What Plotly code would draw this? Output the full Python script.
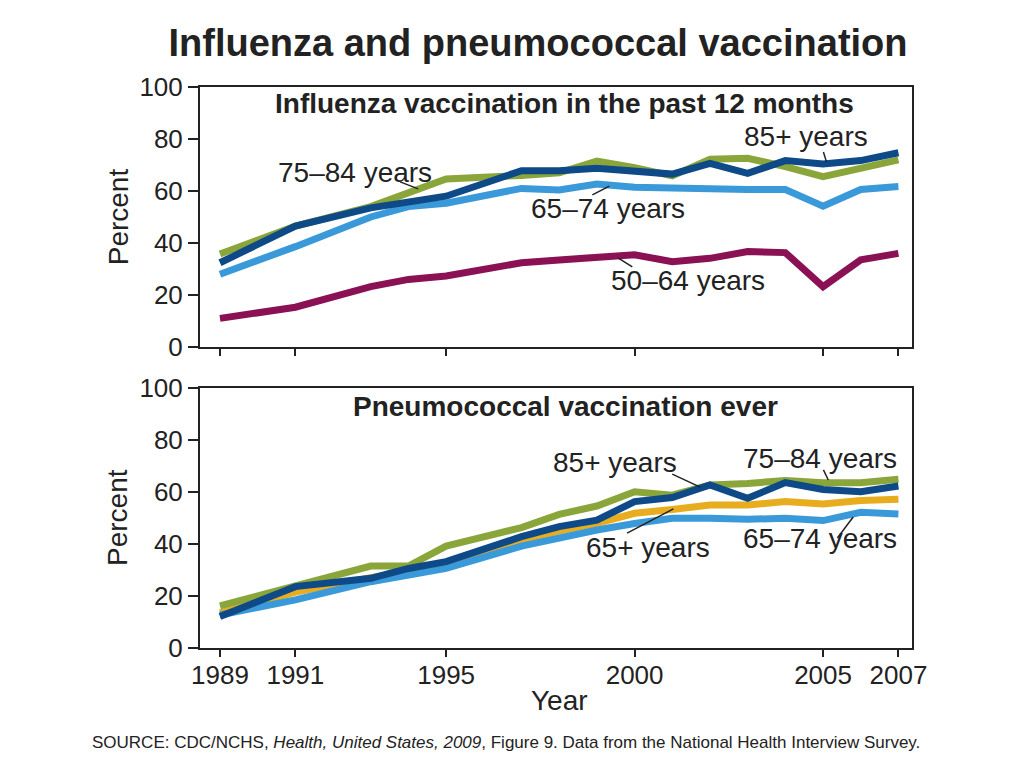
"""Influenza and pneumococcal vaccination - two stacked line panels."""
import plotly.graph_objects as go
from plotly.subplots import make_subplots

FONT = "Liberation Sans, Arial, sans-serif"
INK = "#222222"

COLOR_50_64 = "#8b1155"
COLOR_65_74 = "#3a9ad9"
COLOR_75_84 = "#8aa63a"
COLOR_85 = "#0d4a87"
COLOR_65P = "#e8ad1f"

years = [1989, 1991, 1993, 1994, 1995, 1997, 1998, 1999, 2000,
         2001, 2002, 2003, 2004, 2005, 2006, 2007]
tick_years = [1989, 1991, 1995, 2000, 2005, 2007]

# Influenza vaccination in the past 12 months (percent)
flu_50_64 = [11.0, 15.3, 23.2, 26.0, 27.3, 32.4, 33.5, 34.7, 35.5,
             32.8, 34.1, 36.7, 36.3, 23.2, 33.5, 36.0]
flu_65_74 = [28.0, 38.6, 50.0, 54.0, 55.3, 61.0, 60.4, 62.7, 61.4,
             60.9, 60.9, 60.6, 60.6, 54.2, 60.6, 61.7]
flu_75_84 = [35.8, 46.5, 54.0, 59.0, 64.6, 66.0, 67.0, 71.5, 69.0,
             65.8, 72.2, 72.6, 69.4, 65.5, 68.7, 72.0]
flu_85 = [32.4, 46.5, 53.5, 56.0, 58.0, 67.8, 67.8, 68.7, 67.8,
          66.5, 70.6, 66.8, 71.7, 70.4, 71.7, 74.7]

# Pneumococcal vaccination ever (percent)
pn_65p = [13.5, 21.5, 27.0, 29.5, 32.0, 41.0, 45.0, 47.9, 51.8,
          53.3, 55.0, 55.0, 56.3, 55.4, 56.7, 57.2]
pn_65_74 = [12.7, 18.5, 25.5, 28.0, 30.6, 39.2, 42.4, 45.4, 47.9,
            49.9, 49.9, 49.5, 49.9, 49.0, 52.2, 51.5]
pn_75_84 = [16.2, 23.6, 31.5, 31.5, 39.2, 46.3, 51.4, 54.6, 60.1,
            58.8, 62.7, 63.3, 64.4, 63.6, 63.6, 64.9]
pn_85 = [12.1, 23.6, 26.8, 30.6, 33.2, 42.8, 46.7, 49.2, 56.3,
         57.9, 62.7, 57.6, 63.6, 61.0, 60.1, 62.3]

fig = make_subplots(rows=2, cols=1, vertical_spacing=41 / 561)

top_series = [
    ("50–64 years", flu_50_64, COLOR_50_64),
    ("65–74 years", flu_65_74, COLOR_65_74),
    ("75–84 years", flu_75_84, COLOR_75_84),
    ("85+ years", flu_85, COLOR_85),
]
bottom_series = [
    ("65+ years", pn_65p, COLOR_65P),
    ("65–74 years", pn_65_74, COLOR_65_74),
    ("75–84 years", pn_75_84, COLOR_75_84),
    ("85+ years", pn_85, COLOR_85),
]
for row, series in ((1, top_series), (2, bottom_series)):
    for name, vals, color in series:
        fig.add_trace(
            go.Scatter(x=years, y=vals, mode="lines", name=name,
                       line=dict(color=color, width=7), showlegend=False),
            row=row, col=1,
        )

# series labels with short leader lines: (text, x, y, x0, y0, x1, y1)
labels_top = [
    ("75–84 years", 1992.58, 67.3, 1993.78, 63.5, 1994.26, 60.8),
    ("85+ years", 2004.56, 80.8, 2005.01, 75.0, 2005.09, 71.2),
    ("65–74 years", 1999.30, 53.1, 1998.88, 58.5, 1999.33, 61.9),
    ("50–64 years", 2001.42, 25.4, 1999.57, 34.2, 1999.94, 30.8),
]
labels_bottom = [
    ("85+ years", 1999.49, 71.2, 2001.0, 66.9, 2001.74, 61.9),
    ("75–84 years", 2004.93, 72.7, 2005.01, 68.5, 2005.14, 64.6),
    ("65+ years", 2000.36, 38.8, 1999.80, 44.2, 2001.03, 53.5),
    ("65–74 years", 2004.93, 42.3, 2005.38, 42.3, 2005.80, 50.4),
]
for (xr, yr), labels in ((("x", "y"), labels_top), (("x2", "y2"), labels_bottom)):
    for text, tx, ty, x0, y0, x1, y1 in labels:
        fig.add_annotation(x=tx, y=ty, xref=xr, yref=yr, text=text,
                           showarrow=False, font=dict(size=28, color=INK))
        fig.add_shape(type="line", xref=xr, yref=yr, x0=x0, y0=y0, x1=x1, y1=y1,
                      line=dict(color=INK, width=1.5))

# panel titles
fig.add_annotation(x=1998.13, y=93.8, xref="x", yref="y",
                   text="<b>Influenza vaccination in the past 12 months</b>",
                   showarrow=False, font=dict(size=28, color=INK))
fig.add_annotation(x=1998.18, y=92.7, xref="x2", yref="y2",
                   text="<b>Pneumococcal vaccination ever</b>",
                   showarrow=False, font=dict(size=28, color=INK))

# axis titles (anchors set explicitly; "auto" would shift paper annotations)
for ypos in (0.768, 0.232):
    fig.add_annotation(x=-0.115, y=ypos, xref="paper", yref="paper",
                       xanchor="center", yanchor="middle",
                       text="Percent", textangle=-90, showarrow=False,
                       font=dict(size=28, color=INK))
fig.add_annotation(x=0.5056, y=-0.093, xref="paper", yref="paper",
                   xanchor="center", yanchor="middle",
                   text="Year", showarrow=False, font=dict(size=28, color=INK))

# source
fig.add_annotation(
    x=-0.1545, y=-0.168, xref="paper", yref="paper",
    xanchor="left", yanchor="middle",
    text="SOURCE: CDC/NCHS, <i>Health, United States, 2009</i>, Figure 9. "
         "Data from the National Health Interview Survey.",
    showarrow=False, font=dict(size=17, color=INK),
)

axis_style = dict(showline=True, linecolor=INK, linewidth=2, mirror=True,
                  ticks="outside", tickcolor=INK, tickwidth=2,
                  showgrid=False, zeroline=False,
                  tickfont=dict(size=26, color=INK, family=FONT))
fig.update_xaxes(range=[1988.47, 2007.36], tickvals=tick_years, ticklen=7,
                 ticklabelstandoff=-4, **axis_style)
fig.update_xaxes(showticklabels=False, row=1, col=1)
fig.update_yaxes(range=[0, 100], tickvals=[0, 20, 40, 60, 80, 100], ticklen=10,
                 **axis_style)

# page has an 8px body margin, so the figure is drawn 8px in from the corner
fig.update_layout(
    width=1008,
    height=752,
    margin=dict(l=192, r=104, t=79, b=112),
    paper_bgcolor="white",
    plot_bgcolor="white",
    font=dict(family=FONT, color=INK),
    title=dict(text="<b>Influenza and pneumococcal vaccination</b>",
               x=0.5258, xanchor="center", y=0.9535, yanchor="middle",
               font=dict(size=38, color=INK)),
)

fig.write_html("out.html")
